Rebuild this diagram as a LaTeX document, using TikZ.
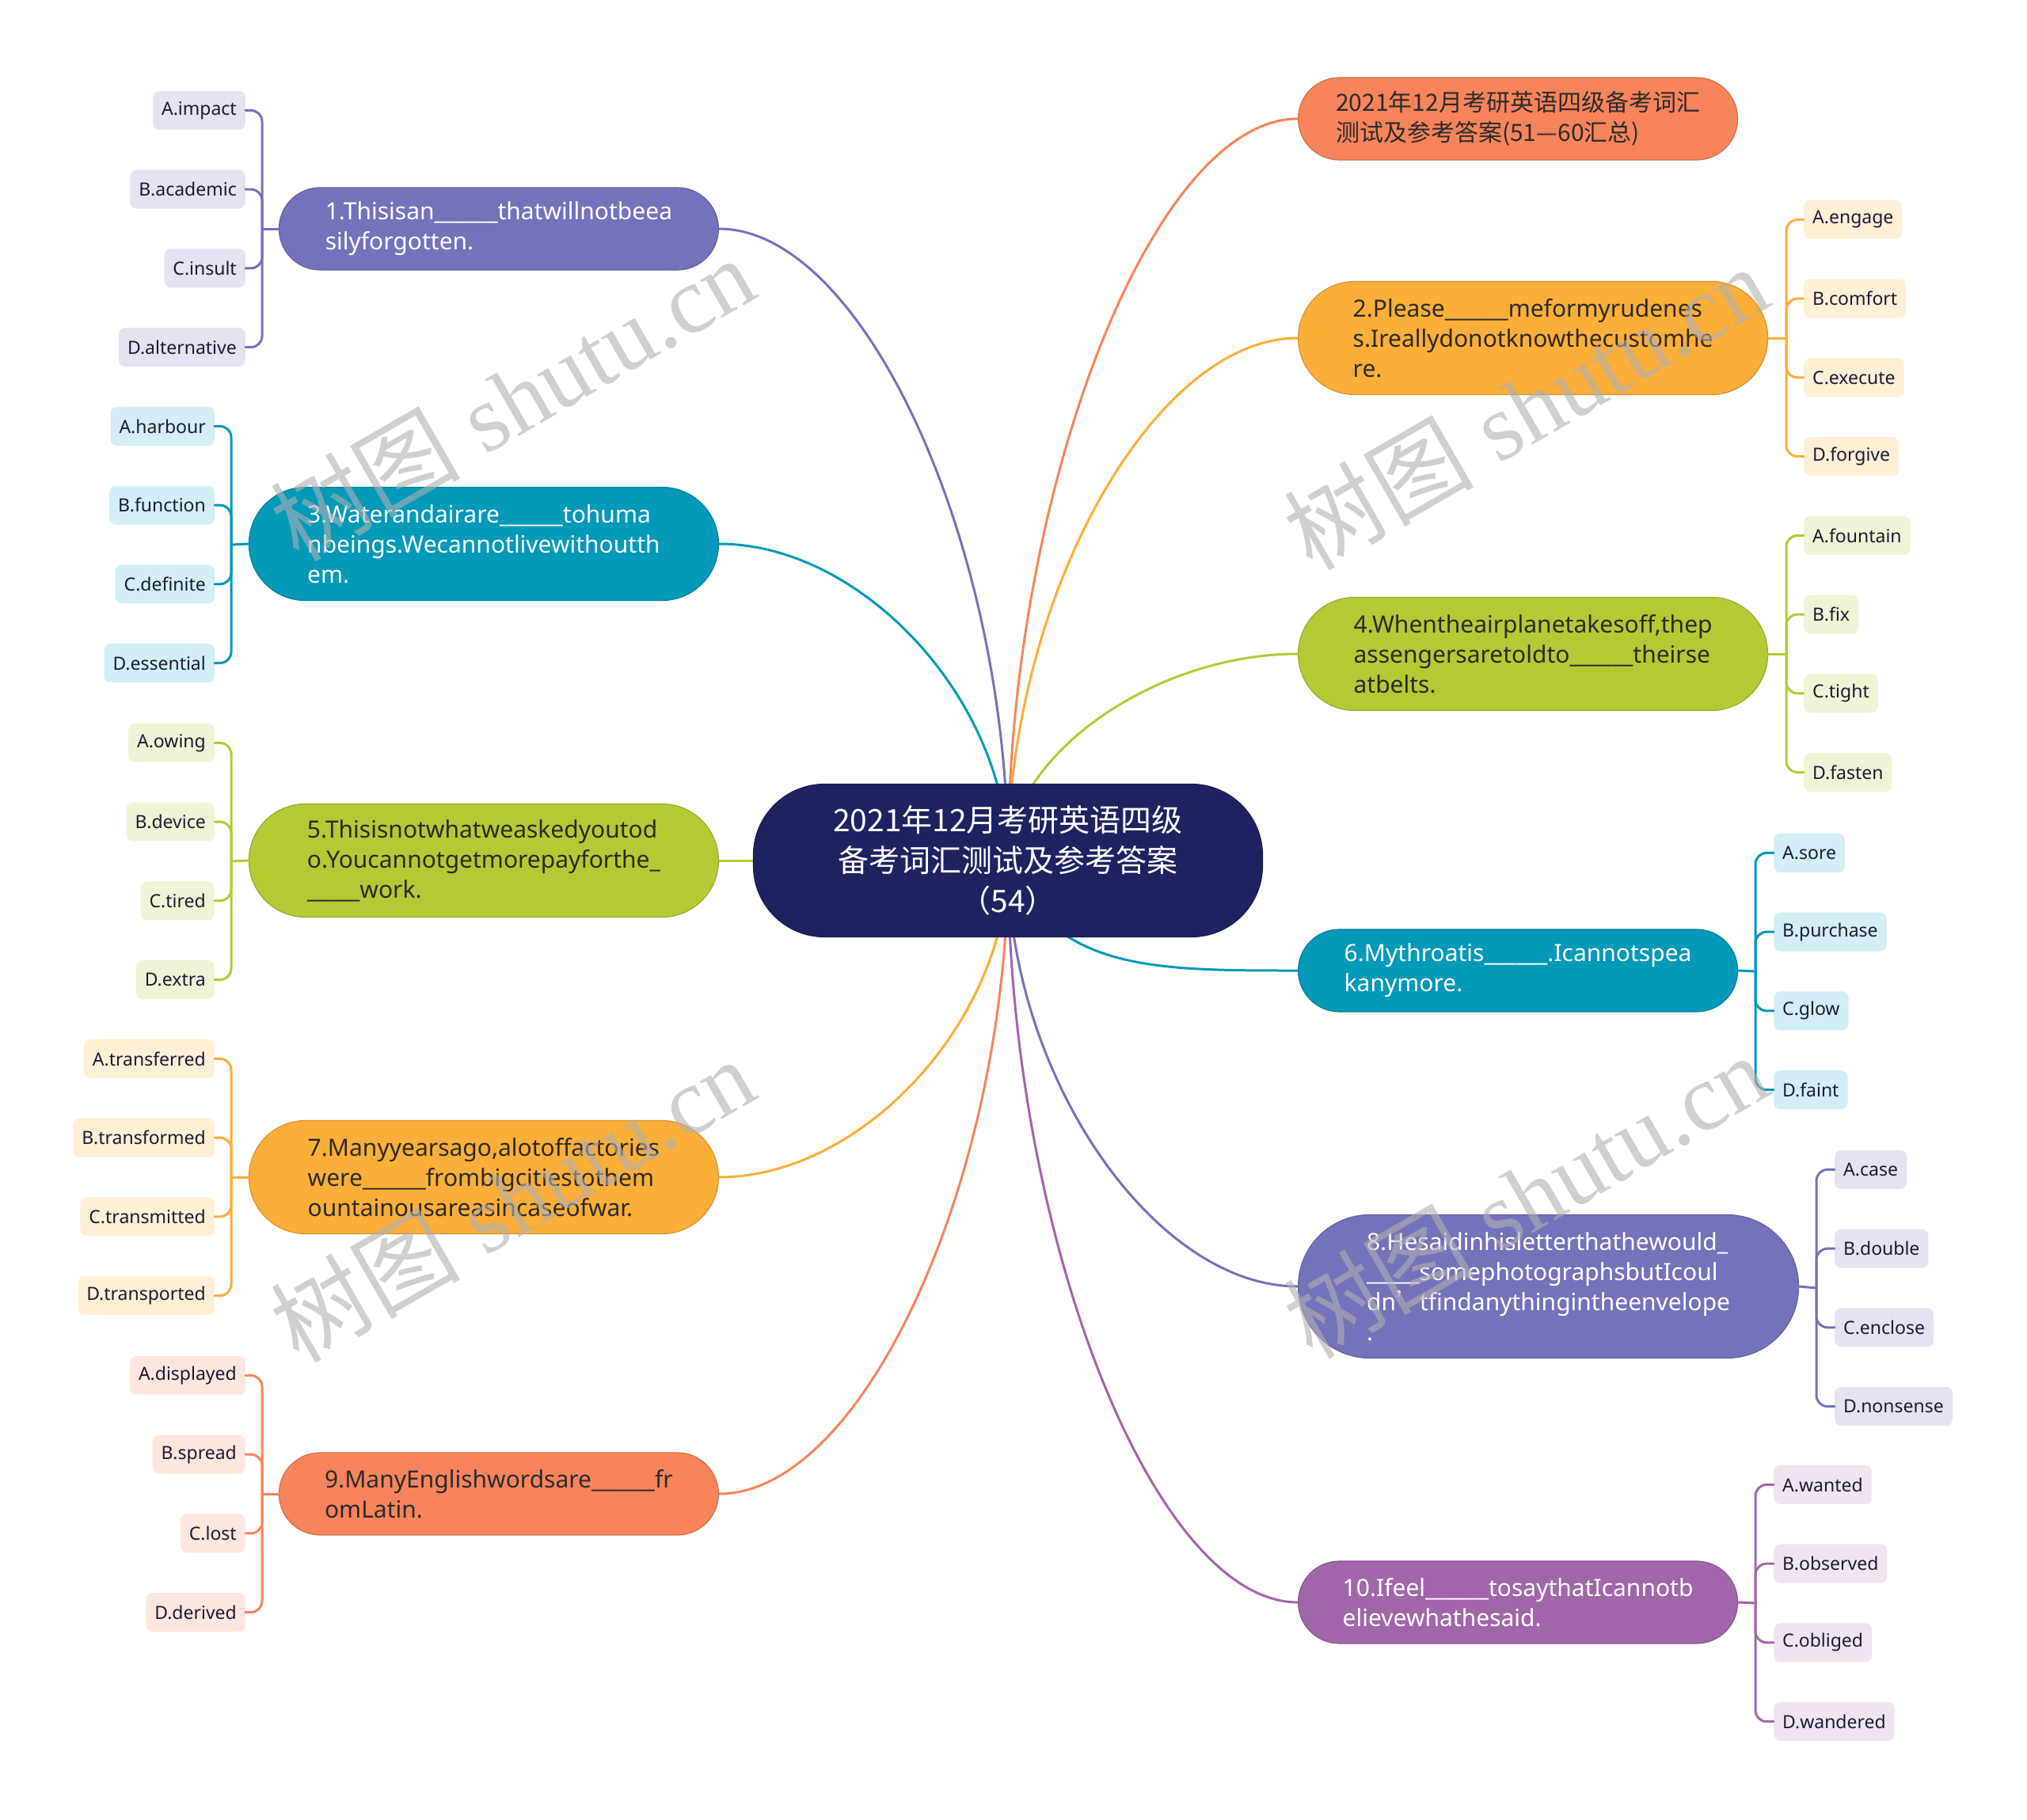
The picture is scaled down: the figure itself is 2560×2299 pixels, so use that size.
\documentclass[tikz,border=0pt]{standalone}
\usepackage{fontspec}
\setmainfont{Noto Sans}
\newfontfamily\cjk{Noto Sans CJK SC}
\newfontfamily\wmserif{Liberation Serif}
\usetikzlibrary{calc,backgrounds}
\definecolor{cPur}{HTML}{7472BA}
\definecolor{cTeal}{HTML}{0399B8}
\definecolor{cGrn}{HTML}{B5C934}
\definecolor{cOrg}{HTML}{FBAE38}
\definecolor{cCor}{HTML}{F7845A}
\definecolor{cVio}{HTML}{A166AA}
\definecolor{cNavy}{HTML}{1F2261}
\definecolor{lPur}{HTML}{E4E3F1}
\definecolor{lTeal}{HTML}{D3EEF5}
\definecolor{lGrn}{HTML}{F0F4D6}
\definecolor{lOrg}{HTML}{FEEFD7}
\definecolor{lCor}{HTML}{FDE6DE}
\definecolor{lVio}{HTML}{F0E4F1}
\definecolor{darktxt}{HTML}{2B2B2B}
\definecolor{leaftxt}{HTML}{1B1B36}
\definecolor{wmgray}{HTML}{B0B0B0}
\newcommand\blank{\textunderscore\textunderscore\textunderscore\textunderscore\textunderscore\textunderscore}
\newcommand\conn[2]{%
  \path (C.center) coordinate (q0) (#2) coordinate (q3) ($(q0)!0.5!(q3)$) coordinate (qm);
  \draw[con,#1] (q0) .. controls (q0 |- qm) and (qm |- q3) .. (q3);}
\tikzset{
  branch/.style={rectangle, align=left, inner sep=0pt, line width=1.2,
    font=\fontsize{30}{38}\selectfont},
  btwo/.style={minimum height=104, rounded corners=51.9},
  bthree/.style={minimum height=143, rounded corners=71.4},
  bfour/.style={minimum height=181, rounded corners=90.4},
  wnarrow/.style={minimum width=555},
  wwide/.style={minimum width=593},
  lighttxt/.style={text=white},
  leaf/.style={rectangle, rounded corners=8, minimum height=49, inner xsep=11,
    inner ysep=0pt, font=\fontsize{23}{28}\selectfont, text=leaftxt},
  con/.style={line width=3, line cap=round},
  wm/.style={rotate=30, text=wmgray, opacity=0.6, text opacity=0.6,
    font=\fontsize{120}{130}\selectfont}
}
\begin{document}
\begin{tikzpicture}[x=1pt,y=-1pt]
\useasboundingbox (0,0) rectangle (2560,2299);
\begin{pgfonlayer}{background}
\fill[white] (0,0) rectangle (2560,2299);
\end{pgfonlayer}

% central node
\node[rectangle, fill=cNavy, draw=cNavy!80!black, line width=1.2, minimum width=643,
  minimum height=193, rounded corners=90, align=center, text=white, inner sep=0pt,
  font={\cjk\fontsize{39}{51}\selectfont}] (C) at (1273,1087)
  {2021年12月考研英语四级\\备考词汇测试及参考答案\\（54）};

% left branches
\node[branch, btwo, wnarrow, fill=cPur, draw=cPur!85!black, lighttxt, anchor=east] (L1) at (908,289)
  {1.Thisisan\blank thatwillnotbeea\\silyforgotten.};
\node[branch, bthree, wwide, fill=cTeal, draw=cTeal!85!black, lighttxt, anchor=east] (L3) at (908,687)
  {3.Waterandairare\blank tohuma\\nbeings.Wecannotlivewithoutth\\em.};
\node[branch, bthree, wwide, fill=cGrn, draw=cGrn!85!black, text=darktxt, anchor=east] (L5) at (908,1087)
  {5.Thisisnotwhatweaskedyoutod\\o.Youcannotgetmorepayforthe\textunderscore\\\textunderscore\textunderscore\textunderscore\textunderscore\textunderscore work.};
\node[branch, bthree, wwide, fill=cOrg, draw=cOrg!85!black, text=darktxt, anchor=east] (L7) at (908,1487)
  {7.Manyyearsago,alotoffactories\\were\blank frombigcitiestothem\\ountainousareasincaseofwar.};
\node[branch, btwo, wnarrow, fill=cCor, draw=cCor!85!black, text=darktxt, anchor=east] (L9) at (908,1887)
  {9.ManyEnglishwordsare\blank fr\\omLatin.};

% right branches
\node[branch, btwo, wnarrow, fill=cCor, draw=cCor!85!black, text=darktxt, anchor=west,
  font={\cjk\fontsize{30}{38}\selectfont}] (R0) at (1639,150)
  {2021年12月考研英语四级备考词汇\\测试及参考答案(51—60汇总)};
\node[branch, bthree, wwide, fill=cOrg, draw=cOrg!85!black, text=darktxt, anchor=west] (R2) at (1639,427)
  {2.Please\blank meformyrudenes\\s.Ireallydonotknowthecustomhe\\re.};
\node[branch, bthree, wwide, fill=cGrn, draw=cGrn!85!black, text=darktxt, anchor=west] (R4) at (1639,826)
  {4.Whentheairplanetakesoff,thep\\assengersaretoldto\blank theirse\\atbelts.};
\node[branch, btwo, wnarrow, fill=cTeal, draw=cTeal!85!black, lighttxt, anchor=west] (R6) at (1639,1226)
  {6.Mythroatis\blank.Icannotspea\\kanymore.};
\node[branch, bfour, minimum width=632, fill=cPur, draw=cPur!85!black, lighttxt, anchor=west] (R8) at (1639,1625)
  {8.Hesaidinhisletterthathewould\textunderscore\\\textunderscore\textunderscore\textunderscore\textunderscore\textunderscore somephotographsbutIcoul\\dn{\cjk ’}tfindanythingintheenvelope\\.};
\node[branch, btwo, wnarrow, fill=cVio, draw=cVio!85!black, lighttxt, anchor=west] (R10) at (1639,2024)
  {10.Ifeel\blank tosaythatIcannotb\\elievewhathesaid.};

% central connectors
\coordinate (c6) at (1330,1170);
\begin{pgfonlayer}{background}
\conn{cPur}{L1.east}
\conn{cTeal}{L3.east}
\draw[con,cGrn] (C.center) -- (L5.east);
\conn{cOrg}{L7.east}
\conn{cCor}{L9.east}
\conn{cCor}{R0.west}
\conn{cOrg}{R2.west}
\conn{cGrn}{R4.west}
\draw[con,cTeal] (c6) .. controls (1400,1226) and (1500,1226) .. (R6.west);
\conn{cPur}{R8.west}
\conn{cVio}{R10.west}
\end{pgfonlayer}

% leaves: left side
\coordinate (t1) at (331,289);
\draw[con,cPur] (L1.west) -- (t1);
\foreach \t [count=\i] in {A.impact,B.academic,C.insult,D.alternative}
 {\node[leaf, fill=lPur, anchor=east] (L1-\i) at (310,{289+(\i-2.5)*99.7}) {\t};
  \draw[con,cPur,rounded corners=14] (t1) |- (L1-\i.east);}

\coordinate (t3) at (292,688);
\draw[con,cTeal] (L3.west) -- (t3);
\foreach \t [count=\i] in {A.harbour,B.function,C.definite,D.essential}
 {\node[leaf, fill=lTeal, anchor=east] (L3-\i) at (271,{688+(\i-2.5)*99.7}) {\t};
  \draw[con,cTeal,rounded corners=14] (t3) |- (L3-\i.east);}

\coordinate (t5) at (292,1088);
\draw[con,cGrn] (L5.west) -- (t5);
\foreach \t [count=\i] in {A.owing,B.device,C.tired,D.extra}
 {\node[leaf, fill=lGrn, anchor=east] (L5-\i) at (271,{1088+(\i-2.5)*99.7}) {\t};
  \draw[con,cGrn,rounded corners=14] (t5) |- (L5-\i.east);}

\coordinate (t7) at (292,1487);
\draw[con,cOrg] (L7.west) -- (t7);
\foreach \t [count=\i] in {A.transferred,B.transformed,C.transmitted,D.transported}
 {\node[leaf, fill=lOrg, anchor=east] (L7-\i) at (271,{1487+(\i-2.5)*99.7}) {\t};
  \draw[con,cOrg,rounded corners=14] (t7) |- (L7-\i.east);}

\coordinate (t9) at (331,1887);
\draw[con,cCor] (L9.west) -- (t9);
\foreach \t [count=\i] in {A.displayed,B.spread,C.lost,D.derived}
 {\node[leaf, fill=lCor, anchor=east] (L9-\i) at (310,{1887+(\i-2.5)*99.7}) {\t};
  \draw[con,cCor,rounded corners=14] (t9) |- (L9-\i.east);}

% leaves: right side
\coordinate (s2) at (2256,427);
\draw[con,cOrg] (R2.east) -- (s2);
\foreach \t [count=\i] in {A.engage,B.comfort,C.execute,D.forgive}
 {\node[leaf, fill=lOrg, anchor=west] (R2-\i) at (2278,{427+(\i-2.5)*99.7}) {\t};
  \draw[con,cOrg,rounded corners=14] (s2) |- (R2-\i.west);}

\coordinate (s4) at (2256,826);
\draw[con,cGrn] (R4.east) -- (s4);
\foreach \t [count=\i] in {A.fountain,B.fix,C.tight,D.fasten}
 {\node[leaf, fill=lGrn, anchor=west] (R4-\i) at (2278,{826+(\i-2.5)*99.7}) {\t};
  \draw[con,cGrn,rounded corners=14] (s4) |- (R4-\i.west);}

\coordinate (s6) at (2217,1227);
\draw[con,cTeal] (R6.east) -- (s6);
\foreach \t [count=\i] in {A.sore,B.purchase,C.glow,D.faint}
 {\node[leaf, fill=lTeal, anchor=west] (R6-\i) at (2240,{1227+(\i-2.5)*99.7}) {\t};
  \draw[con,cTeal,rounded corners=14] (s6) |- (R6-\i.west);}

\coordinate (s8) at (2294,1627);
\draw[con,cPur] (R8.east) -- (s8);
\foreach \t [count=\i] in {A.case,B.double,C.enclose,D.nonsense}
 {\node[leaf, fill=lPur, anchor=west] (R8-\i) at (2317,{1627+(\i-2.5)*99.7}) {\t};
  \draw[con,cPur,rounded corners=14] (s8) |- (R8-\i.west);}

\coordinate (s10) at (2217,2025);
\draw[con,cVio] (R10.east) -- (s10);
\foreach \t [count=\i] in {A.wanted,B.observed,C.obliged,D.wandered}
 {\node[leaf, fill=lVio, anchor=west] (R10-\i) at (2240,{2025+(\i-2.5)*99.7}) {\t};
  \draw[con,cVio,rounded corners=14] (s10) |- (R10-\i.west);}

% watermarks
\foreach \p [count=\k] in {(647,503),(1927,514),(647,1515),(1927,1510)}
  \node[wm] (wm\k) at \p {{\cjk 树图} {\wmserif shutu.cn}};
\end{tikzpicture}
\end{document}
